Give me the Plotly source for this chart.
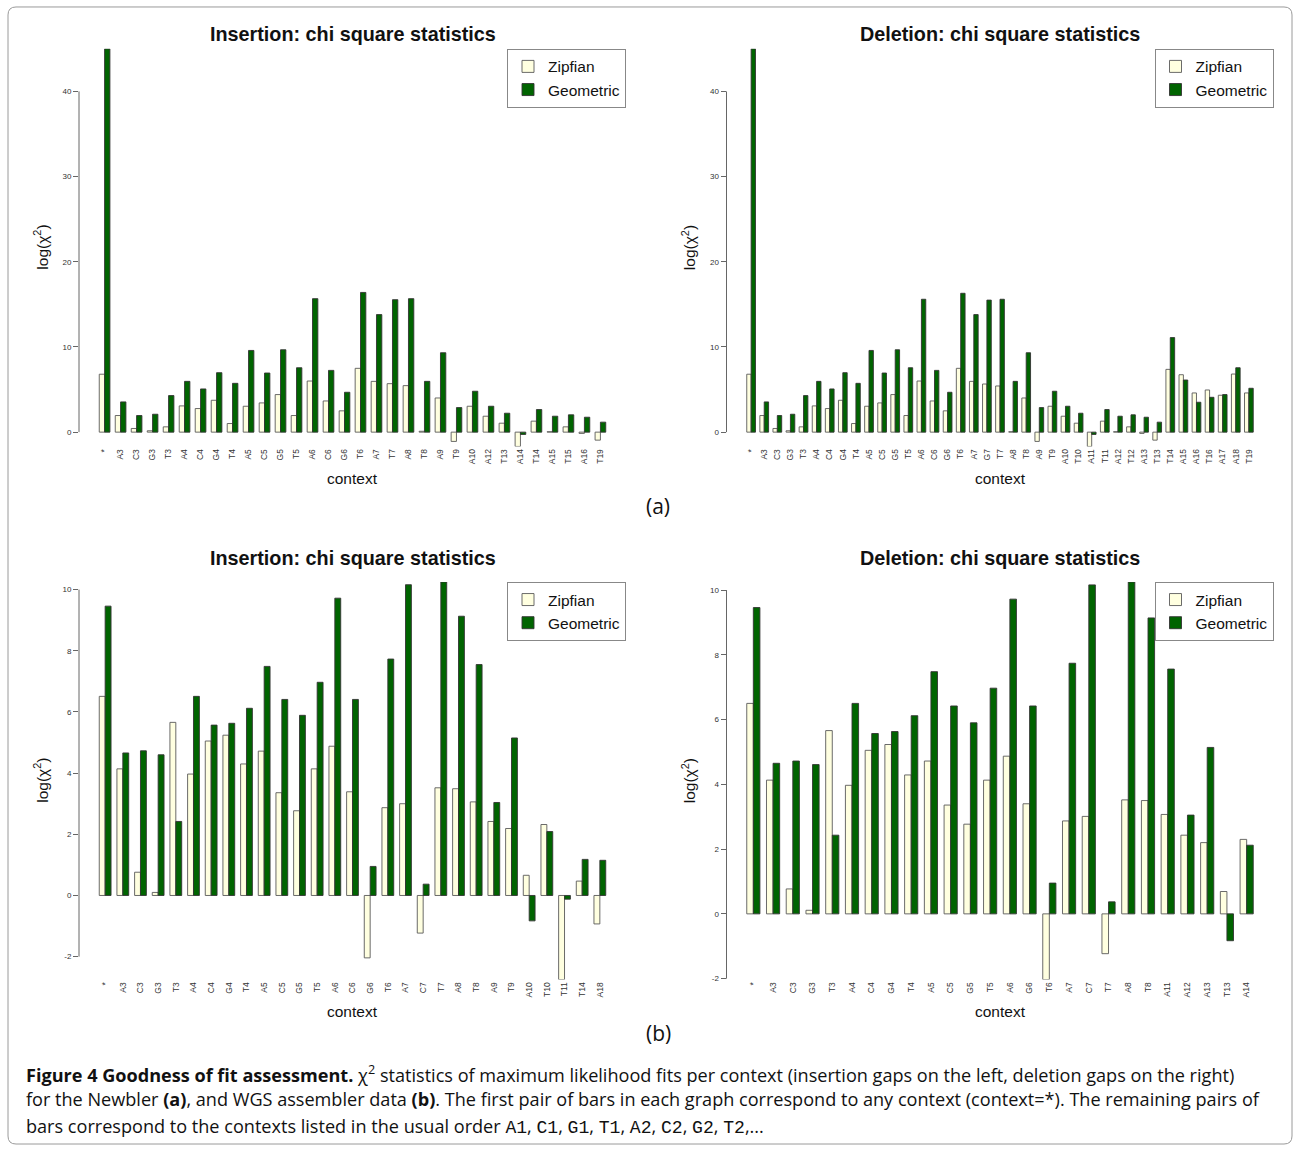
import plotly.graph_objects as go

W, H = 1294, 1152

# ---------------- data ----------------
a_ins_ctx = ["*", "A3", "C3", "G3", "T3", "A4", "C4", "G4", "T4", "A5", "C5", "G5", "T5",
             "A6", "C6", "G6", "T6", "A7", "T7", "A8", "T8", "A9", "T9", "A10", "A12", "T13",
             "A14", "T14", "A15", "T15", "A16", "T19"]
a_ins_zipf = [6.8, 1.95, 0.43, 0.16, 0.62, 3.08, 2.77, 3.74, 1.01, 3.04, 3.43, 4.41, 1.95,
              6.0, 3.66, 2.5, 7.49, 5.96, 5.69, 5.46, 0.1, 4.01, -1.09, 3.04, 1.87, 1.05,
              -1.68, 1.29, 0.05, 0.62, -0.15, -0.94]
a_ins_geom = [45.0, 3.55, 1.95, 2.1, 4.29, 5.96, 5.07, 6.98, 5.73, 9.59, 6.94, 9.67, 7.56,
              15.67, 7.25, 4.68, 16.4, 13.8, 15.55, 15.67, 5.96, 9.32, 2.88, 4.8, 3.04, 2.22,
              -0.27, 2.65, 1.87, 2.03, 1.75, 1.17]

a_del_ctx = ["*", "A3", "C3", "G3", "T3", "A4", "C4", "G4", "T4", "A5", "C5", "G5", "T5",
             "A6", "C6", "G6", "T6", "A7", "G7", "T7", "A8", "T8", "A9", "T9", "A10", "T10",
             "A11", "T11", "A12", "T12", "A13", "T13", "T14", "A15", "A16", "T16", "A17",
             "A18", "T19"]
a_del_zipf = [6.8, 1.95, 0.43, 0.16, 0.62, 3.08, 2.77, 3.74, 1.01, 3.04, 3.43, 4.41, 1.95,
              6.0, 3.66, 2.5, 7.49, 5.96, 5.65, 5.42, 0.05, 4.01, -1.09, 3.04, 1.87, 1.05,
              -1.68, 1.29, 0.05, 0.62, -0.15, -0.94, 7.37, 6.74, 4.6, 4.95, 4.33,
              6.82, 4.6]
a_del_geom = [45.0, 3.55, 1.95, 2.1, 4.29, 5.96, 5.07, 6.98, 5.73, 9.59, 6.94, 9.67, 7.56,
              15.6, 7.25, 4.68, 16.3, 13.8, 15.5, 15.6, 5.96, 9.32, 2.88, 4.8, 3.04, 2.22,
              -0.27, 2.65, 1.87, 2.03, 1.75, 1.17, 11.1, 6.12, 3.51, 4.09, 4.41,
              7.56, 5.15]

b_ins_ctx = ["*", "A3", "C3", "G3", "T3", "A4", "C4", "G4", "T4", "A5", "C5", "G5", "T5",
             "A6", "C6", "G6", "T6", "A7", "C7", "T7", "A8", "T8", "A9", "T9", "A10", "T10",
             "T11", "T14", "A18"]
b_ins_zipf = [6.51, 4.14, 0.76, 0.1, 5.66, 3.97, 5.05, 5.24, 4.3, 4.72, 3.36, 2.77, 4.14,
              4.88, 3.39, -2.04, 2.87, 3.0, -1.23, 3.52, 3.49, 3.06, 2.42, 2.19, 0.66, 2.32,
              -2.75, 0.47, -0.93]
b_ins_geom = [9.46, 4.66, 4.73, 4.6, 2.42, 6.51, 5.57, 5.63, 6.12, 7.49, 6.41, 5.89, 6.97,
              9.72, 6.41, 0.95, 7.73, 10.16, 0.37, 10.25, 9.13, 7.55, 3.04, 5.15, -0.83, 2.09,
              -0.12, 1.18, 1.15]

b_del_ctx = ["*", "A3", "C3", "G3", "T3", "A4", "C4", "G4", "T4", "A5", "C5", "G5", "T5",
             "A6", "G6", "T6", "A7", "C7", "T7", "A8", "T8", "A11", "A12", "A13", "T13", "A14"]
b_del_zipf = [6.5, 4.13, 0.77, 0.11, 5.66, 3.97, 5.05, 5.23, 4.29, 4.72, 3.36, 2.77, 4.13,
              4.87, 3.4, -2.03, 2.87, 3.01, -1.23, 3.52, 3.5, 3.07, 2.43, 2.2, 0.69, 2.3]
b_del_geom = [9.46, 4.65, 4.72, 4.61, 2.43, 6.5, 5.57, 5.63, 6.12, 7.48, 6.42, 5.9, 6.97,
              9.72, 6.42, 0.95, 7.74, 10.16, 0.37, 10.25, 9.14, 7.56, 3.05, 5.14, -0.83, 2.12]

a_yticks = [0, 10, 20, 30, 40]
b_yticks = [-2, 0, 2, 4, 6, 8, 10]

panel_titles = ["Insertion: chi square statistics", "Deletion: chi square statistics"]
series_names = ["Zipfian", "Geometric"]

# ---------------- styling / layout ----------------
ZIPF_COL = "#FFFFE0"
GEOM_COL = "#006400"
EDGE_COL = "#5a5a5a"
FONT = "Liberation Sans, Arial, sans-serif"

def px_x(p):
    return p / W

def px_y(p):
    return 1 - p / H

# plot regions in pixels: (left, right, top, bottom)
regions = [
    (79, 626, 49, 448),
    (726.5, 1273.5, 49, 448),
    (79, 626, 584, 983),
    (726.5, 1273.5, 584, 983),
]
panels = [
    (a_ins_ctx, a_ins_zipf, a_ins_geom, a_yticks),
    (a_del_ctx, a_del_zipf, a_del_geom, a_yticks),
    (b_ins_ctx, b_ins_zipf, b_ins_geom, b_yticks),
    (b_del_ctx, b_del_zipf, b_del_geom, b_yticks),
]

fig = go.Figure()
layout = dict(
    width=W, height=H, autosize=False,
    margin=dict(l=0, r=0, t=0, b=0),
    paper_bgcolor="white", plot_bgcolor="white",
    barmode="group", bargap=1/3, bargroupgap=0,
    font=dict(family=FONT, color="#222"),
    showlegend=True,
)
shapes = []
annotations = []

for i, ((ctx, zipf, geom, yt), (l, r, t, b)) in enumerate(zip(panels, regions)):
    k = i + 1
    xa = "x" if k == 1 else f"x{k}"
    ya = "y" if k == 1 else f"y{k}"
    lg = "legend" if k == 1 else f"legend{k}"
    n = len(ctx)
    pad = 0.04 * (3 * n - 1) / 3
    xr = [-1/3 - pad, n - 2/3 + pad]
    allv = zipf + geom
    yr = [min(allv), max(allv)]

    fig.add_trace(go.Bar(x=ctx, y=zipf, name=series_names[0], xaxis=xa, yaxis=ya,
                         marker=dict(color=ZIPF_COL, line=dict(color=EDGE_COL, width=0.9)),
                         legend=lg, offsetgroup="z"))
    fig.add_trace(go.Bar(x=ctx, y=geom, name=series_names[1], xaxis=xa, yaxis=ya,
                         marker=dict(color=GEOM_COL, line=dict(color="#333", width=0.9)),
                         legend=lg, offsetgroup="g"))

    layout["xaxis" if k == 1 else f"xaxis{k}"] = dict(
        domain=[px_x(l), px_x(r)], anchor=ya, range=xr, type="category",
        tickmode="array", tickvals=ctx, ticktext=ctx, tickangle=-90,
        tickfont=dict(size=8.5, color="#333", family=FONT),
        showgrid=False, zeroline=False, showline=False, ticks="",
    )
    layout["yaxis" if k == 1 else f"yaxis{k}"] = dict(
        domain=[px_y(b), px_y(t)], anchor=xa, range=yr,
        tickmode="array", tickvals=yt, ticktext=[str(v) for v in yt],
        tickfont=dict(size=8, color="#333", family=FONT),
        ticks="outside", ticklen=5, tickcolor="#666", tickwidth=1,
        showgrid=False, zeroline=False, showline=False,
    )
    layout[lg] = dict(
        x=px_x(r), y=px_y(t), xanchor="right", yanchor="top",
        bordercolor="#888", borderwidth=1, bgcolor="white",
        font=dict(size=15.5, family=FONT, color="#111"),
        tracegroupgap=0,
    )
    # R-style y axis line spanning first to last tick
    shapes.append(dict(type="line", xref="paper", yref=ya, x0=px_x(l), x1=px_x(l),
                       y0=yt[0], y1=yt[-1], line=dict(color="#666", width=1)))
    cx = (l + r) / 2
    title_y = 34 if t < 300 else 560
    annotations.append(dict(text="<b>" + panel_titles[i % 2] + "</b>", x=px_x(cx), y=px_y(title_y),
                            xref="paper", yref="paper", showarrow=False,
                            xanchor="center", yanchor="middle",
                            font=dict(size=19.8, family=FONT, color="#111")))
    annotations.append(dict(text="context", x=px_x(cx), y=px_y(b + 32), xref="paper", yref="paper",
                            showarrow=False, xanchor="center", yanchor="middle",
                            font=dict(size=15.5, family=FONT, color="#111")))
    annotations.append(dict(text="log(χ<sup>2</sup>)", x=px_x(l - 38), y=px_y((t + b) / 2),
                            xref="paper", yref="paper", showarrow=False, textangle=-90,
                            xanchor="center", yanchor="middle",
                            font=dict(size=15.5, family=FONT, color="#111")))

# panel letters
for lab, yy in (("(a)", 508), ("(b)", 1037)):
    annotations.append(dict(text=lab, x=px_x(658), y=px_y(yy), xref="paper", yref="paper",
                            showarrow=False, xanchor="center", yanchor="middle",
                            font=dict(size=21, family="Open Sans, sans-serif", color="#111")))

# caption
CAP_FONT = "Open Sans, sans-serif"
MONO = "font-family:'Liberation Mono',monospace"
mono = lambda s: f"<span style=\"{MONO}\">{s}</span>"
cap_lines = [
    "<b>Figure 4 Goodness of fit assessment.</b> χ<sup>2</sup> statistics of maximum likelihood fits per context (insertion gaps on the left, deletion gaps on the right)",
    "for the Newbler <b>(a)</b>, and WGS assembler data <b>(b)</b>. The first pair of bars in each graph correspond to any context (context=*). The remaining pairs of",
    "bars correspond to the contexts listed in the usual order " + ", ".join(mono(s) for s in ["A1", "C1", "G1", "T1", "A2", "C2", "G2", "T2"]) + ",...",
]
for j, (line, yy) in enumerate(zip(cap_lines, [1077, 1103, 1130])):
    annotations.append(dict(text=line, x=px_x(24), y=px_y(yy), xref="paper", yref="paper",
                            showarrow=False, xanchor="left", yanchor="middle",
                            font=dict(size=18.1, family=CAP_FONT, color="#111")))

# outer rounded frame
x0, x1, y0, y1, rr = px_x(8), px_x(1292), px_y(7), px_y(1148), 8
rx, ry = rr / W, rr / H
path = (f"M {x0+rx},{y0} L {x1-rx},{y0} Q {x1},{y0} {x1},{y0-ry} "
        f"L {x1},{y1+ry} Q {x1},{y1} {x1-rx},{y1} L {x0+rx},{y1} Q {x0},{y1} {x0},{y1+ry} "
        f"L {x0},{y0-ry} Q {x0},{y0} {x0+rx},{y0} Z")
shapes.append(dict(type="path", xref="paper", yref="paper", path=path,
                   line=dict(color="#9a9a9a", width=1)))

layout["shapes"] = shapes
layout["annotations"] = annotations
fig.update_layout(**layout)

fig.write_html("out.html", config={"displayModeBar": False},
               post_script="document.body.style.margin='0';")
